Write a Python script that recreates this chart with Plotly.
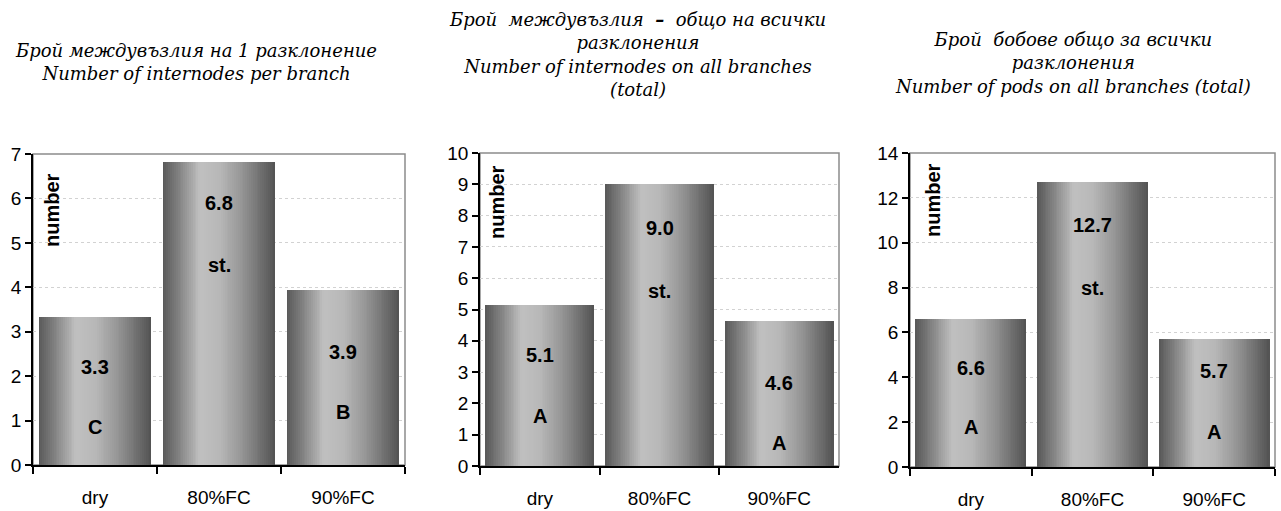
import plotly.graph_objects as go

# ---------------- data ----------------
categories = ["dry", "80%FC", "90%FC"]

internodes_per_branch = [3.34, 6.82, 3.93]
internodes_all_branches = [5.14, 9.00, 4.63]
pods_all_branches = [6.62, 12.72, 5.72]

letters_per_branch = ["C", "st.", "B"]
letters_all_branches = ["A", "st.", "A"]
letters_pods = ["A", "st.", "A"]

title_lines = [
    ["Брой междувъзлия на 1 разклонение", "Number of internodes per branch"],
    ["Брой\u00a0 междувъзлия\u00a0 <b>–</b>\u00a0 общо на всички", "разклонения",
     "Number of internodes on all branches", "(total)"],
    ["Брой\u00a0 бобове общо за всички", "разклонения", "Number of pods on all branches (total)"],
]
y_axis_label = "number"
y_max = [7, 10, 14]
y_dtick = [1, 1, 2]

# ---------------- layout / style (positions, not data) ----------------
W, H = 1281, 511
# plot areas in pixels: (left, right, top, bottom)
areas = [(33, 405, 154, 465), (480, 839, 153, 466), (910, 1275, 153, 467)]
# annotation positions (value label y, letter y) in data units
value_label_y = [[2.2, 5.9, 2.54], [3.55, 7.6, 2.65], [4.41, 10.8, 4.28]]
letter_label_y = [[0.86, 4.5, 1.19], [1.6, 5.6, 0.73], [1.78, 8.0, 1.56]]
# title block centres in pixels
title_xy = [(196, 62), (637, 54), (1073, 63)]
number_pos = [(52, 210), (497, 202), (933, 200)]

bar_width = 0.91
n_stripes = 60
stops = [(0.0, 88), (0.15, 132), (0.33, 192), (0.5, 184), (0.7, 150), (0.85, 116), (1.0, 82)]


def gray_at(t):
    for (t0, g0), (t1, g1) in zip(stops[:-1], stops[1:]):
        if t0 <= t <= t1:
            g = g0 + (g1 - g0) * (t - t0) / (t1 - t0)
            g = int(round(g))
            return f"rgb({g},{g},{g})"
    return "rgb(85,85,85)"


series = [internodes_per_branch, internodes_all_branches, pods_all_branches]
letters = [letters_per_branch, letters_all_branches, letters_pods]

fig = go.Figure()
annotations = []
shapes = []
SANS = "Arial, Liberation Sans, sans-serif"
AX_FONT = dict(family=SANS, size=19, color="black")
BOLD_FONT = dict(family=SANS, size=20, color="black")
TITLE_FONT = dict(family="DejaVu Serif, serif", size=18, color="black")

step = bar_width / n_stripes
for i, vals in enumerate(series):
    xa = "x" if i == 0 else f"x{i+1}"
    ya = "y" if i == 0 else f"y{i+1}"
    for k in range(n_stripes):
        off = -bar_width / 2 + k * step
        wdt = min(step * 1.8, bar_width / 2 - off)
        fig.add_trace(go.Bar(
            x=categories, y=vals, xaxis=xa, yaxis=ya,
            offset=[off] * len(categories), width=[wdt] * len(categories),
            marker=dict(color=gray_at((k + 0.5) / n_stripes), line=dict(width=0)),
            showlegend=False, hoverinfo="skip",
        ))
    l, r, t, b = areas[i]
    dom_x = [l / W, r / W]
    dom_y = [(H - b) / H, (H - t) / H]
    fig.layout[f"xaxis{'' if i == 0 else i+1}"] = dict(
        domain=dom_x, anchor=ya, type="category", range=[-0.5, 2.5], automargin=False,
        showline=True, linecolor="black", linewidth=1.5,
        ticks="outside", tickson="boundaries", ticklen=7, tickcolor="black", tickwidth=1.5,
        tickfont=dict(family=SANS, size=19, color="black"), ticklabelstandoff=14,
        showgrid=False, zeroline=False,
    )
    fig.layout[f"yaxis{'' if i == 0 else i+1}"] = dict(
        domain=dom_y, anchor=xa, range=[0, y_max[i]], dtick=y_dtick[i], tick0=0,
        automargin=False,
        showline=True, linecolor="black", linewidth=1.5,
        ticks="outside", ticklen=6, tickcolor="black", tickwidth=1.5,
        tickfont=AX_FONT, showgrid=True, gridcolor="#d2d2d2", gridwidth=1, griddash="dot",
        zeroline=False,
    )
    # gray plot-area border (top/right)
    shapes.append(dict(type="rect", xref=f"{xa} domain", yref=f"{ya} domain",
                       x0=0, x1=1, y0=0, y1=1, line=dict(color="#8c8c8c", width=1.5),
                       layer="below"))
    for j, c in enumerate(categories):
        annotations.append(dict(x=c, y=value_label_y[i][j], xref=xa, yref=ya,
                                text=f"<b>{vals[j]:.1f}</b>", showarrow=False, font=BOLD_FONT))
        annotations.append(dict(x=c, y=letter_label_y[i][j], xref=xa, yref=ya,
                                text=f"<b>{letters[i][j]}</b>", showarrow=False, font=BOLD_FONT))
    nx, ny = number_pos[i]
    annotations.append(dict(x=nx / W, y=1 - ny / H, xref="paper", yref="paper",
                            text=f"<b>{y_axis_label}</b>", textangle=-90, showarrow=False,
                            font=BOLD_FONT, xanchor="center", yanchor="middle"))
    tx, ty = title_xy[i]
    annotations.append(dict(x=tx / W, y=1 - ty / H, xref="paper", yref="paper",
                            text="<br>".join(f"<i>{s}</i>" for s in title_lines[i]),
                            showarrow=False, font=TITLE_FONT,
                            xanchor="center", yanchor="middle", align="center"))

fig.update_layout(
    width=W, height=H, margin=dict(l=0, r=0, t=0, b=0),
    paper_bgcolor="white", plot_bgcolor="white",
    barmode="overlay", bargap=0,
    annotations=annotations, shapes=shapes, showlegend=False,
)

fig.write_html("out.html")
